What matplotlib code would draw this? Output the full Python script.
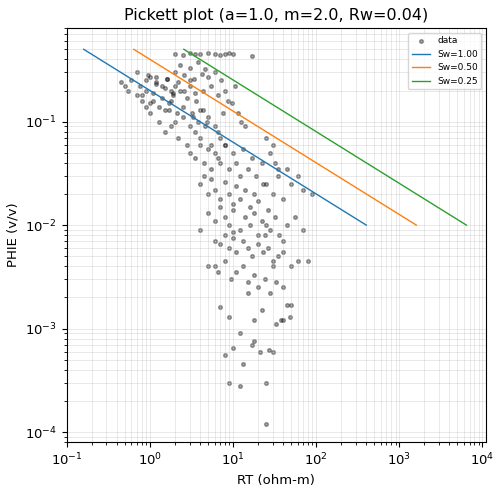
import numpy as np
import matplotlib
matplotlib.use("Agg")
import matplotlib.pyplot as plt

a, m, n, Rw = 1.0, 2.0, 2.0, 0.04
sw_values = [1.00, 0.50, 0.25]
line_colors = ["#1f77b4", "#ff7f0e", "#2ca02c"]
phi_line = [0.5, 0.01]

rt = [0.45,0.5,0.55,0.6,0.7,0.75,0.8,0.9,0.95,1.0,1.1,1.2,1.3,1.4,1.5,1.6,1.7,1.8,1.9,2.0,
      0.7,0.8,0.9,1.0,1.1,1.2,1.3,1.5,1.7,1.9,2.1,2.3,2.5,2.8,3.0,3.3,3.6,4.0,4.4,4.8,
      1.5,1.8,2.0,2.2,2.5,2.8,3.0,3.2,3.5,3.8,4.0,4.3,4.6,5.0,5.5,6.0,6.5,7.0,7.5,8.0,
      2.0,2.3,2.6,3.0,3.4,3.8,4.2,4.6,5.0,5.5,6.0,6.6,7.2,8.0,8.8,9.6,10.5,11.5,12.5,14.0,
      3.0,3.5,4.0,4.5,5.0,5.5,6.0,6.5,7.0,8.0,9.0,10.0,11.0,12.0,13.0,15.0,17.0,19.0,22.0,25.0,
      4.0,4.5,5.0,5.5,6.0,7.0,8.0,9.0,10.0,11.0,12.0,14.0,16.0,18.0,20.0,23.0,26.0,30.0,35.0,40.0,
      5.0,6.0,7.0,8.0,9.0,10.0,12.0,14.0,16.0,18.0,20.0,22.0,25.0,28.0,32.0,36.0,40.0,45.0,55.0,70.0,
      6.0,7.0,8.0,9.0,10.0,11.0,13.0,15.0,17.0,20.0,23.0,26.0,30.0,35.0,40.0,50.0,60.0,80.0,
      5.0,6.5,8.0,9.5,11.0,13.0,15.0,18.0,20.0,24.0,28.0,33.0,40.0,50.0,
      7.0,9.0,12.0,15.0,18.0,22.0,27.0,33.0,40.0,48.0,
      8.0,10.0,13.0,17.0,21.0,25.0,30.0,38.0,
      9.0,12.0,18.0,25.0,
      2.0,2.5,3.0,3.5,4.0,5.0,6.0,7.0,8.0,9.0,10.0,17.0,
      0.9,1.0,1.2,1.4,1.6,1.8,2.2,2.6,3.0,3.5,
      25.0,28.0,30.0,32.0,35.0,45.0,50.0,60.0,70.0,90.0,
      4.0,6.0,10.0,24.0,30.0,45.0]
phie = [0.24,0.22,0.2,0.25,0.18,0.22,0.16,0.2,0.28,0.15,0.19,0.23,0.14,0.17,0.21,0.26,0.13,0.16,0.19,0.22,
        0.3,0.18,0.14,0.12,0.16,0.27,0.1,0.13,0.15,0.18,0.12,0.2,0.14,0.17,0.25,0.11,0.16,0.13,0.2,0.1,
        0.08,0.09,0.1,0.07,0.11,0.06,0.09,0.12,0.08,0.1,0.07,0.13,0.09,0.11,0.06,0.09,0.08,0.07,0.12,0.06,
        0.3,0.35,0.28,0.33,0.26,0.38,0.29,0.32,0.27,0.22,0.3,0.18,0.25,0.2,0.16,0.15,0.22,0.12,0.1,0.09,
        0.05,0.045,0.06,0.04,0.055,0.035,0.05,0.045,0.04,0.06,0.035,0.05,0.04,0.03,0.055,0.035,0.045,0.03,0.04,0.025,
        0.025,0.03,0.02,0.028,0.022,0.018,0.026,0.02,0.016,0.024,0.018,0.022,0.015,0.02,0.017,0.025,0.014,0.02,0.03,0.018,
        0.013,0.011,0.015,0.012,0.01,0.014,0.009,0.012,0.01,0.013,0.008,0.011,0.01,0.009,0.012,0.008,0.007,0.01,0.012,0.009,
        0.007,0.0065,0.008,0.006,0.0075,0.0055,0.007,0.006,0.005,0.0065,0.0055,0.006,0.0045,0.005,0.0055,0.004,0.0045,0.0045,
        0.004,0.0035,0.0045,0.003,0.0035,0.004,0.0028,0.0033,0.0025,0.003,0.0022,0.0028,0.0025,0.0017,
        0.0016,0.0013,0.0009,0.0022,0.0012,0.0015,0.00062,0.0011,0.0012,0.0013,
        0.00055,0.00065,0.00045,0.0007,0.0006,0.0003,0.0006,0.0012,
        0.0003,0.00028,0.00075,0.00012,
        0.45,0.44,0.46,0.45,0.45,0.46,0.45,0.44,0.45,0.46,0.45,0.43,
        0.25,0.27,0.24,0.22,0.26,0.2,0.24,0.2,0.22,0.19,
        0.07,0.05,0.06,0.04,0.035,0.035,0.025,0.03,0.022,0.02,
        0.009,0.004,0.0085,0.008,0.004,0.0017]

fig, ax = plt.subplots(figsize=(5.02, 4.95), dpi=100)
ax.scatter(rt, phie, s=7, c="black", alpha=0.35, label="data")
for sw, c in zip(sw_values, line_colors):
    rts = [a * Rw / (sw ** n * p ** m) for p in phi_line]
    ax.plot(rts, phi_line, color=c, lw=1, label=f"Sw={sw:.2f}")
ax.set_xscale("log"); ax.set_yscale("log")
ax.set_xlim(0.1, 1.1e4); ax.set_ylim(8e-5, 0.8)
ax.grid(True, which="both", lw=0.5, alpha=0.4)
ax.set_xlabel("RT (ohm-m)", fontsize=9.5); ax.set_ylabel("PHIE (v/v)", fontsize=9.5)
ax.tick_params(labelsize=9.5)
ax.set_title("Pickett plot (a=1.0, m=2.0, Rw=0.04)", fontsize=11.5)
ax.legend(fontsize=6.5, loc="upper right")
fig.subplots_adjust(left=0.133, right=0.968, top=0.943, bottom=0.107)
fig.savefig("out.png")
